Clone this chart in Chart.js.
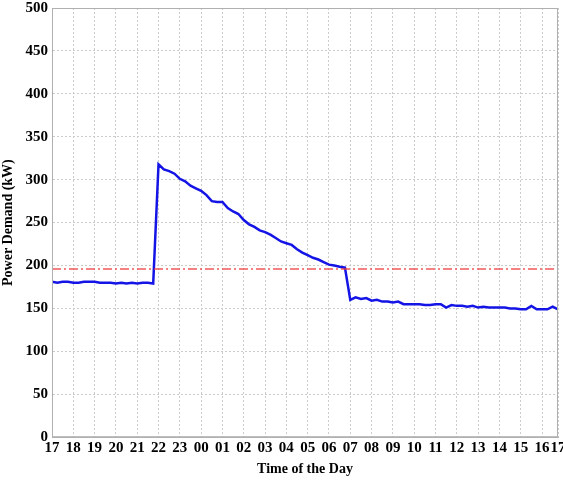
<!DOCTYPE html>
<html>
<head>
<meta charset="utf-8">
<script src="https://cdn.jsdelivr.net/npm/chart.js@4.4.1/dist/chart.umd.min.js"></script>
<style>
  html, body { margin: 0; padding: 0; background: #ffffff; }
  #wrap { width: 563px; height: 484px; position: relative; }
</style>
</head>
<body>
<div id="wrap"><canvas id="c" width="563" height="484"></canvas></div>
<script>
// Samples every 15 minutes starting at 17:00
const stepHours = 0.25;
const demandKW = [
  // 17:00 - 21:45
  181, 180, 181, 181, 180, 180, 181, 181, 181, 180,
  180, 180, 179, 180, 179, 180, 179, 180, 180, 179,
  // 22:00 - 06:45
  318, 312, 310, 307, 301, 298, 293, 290, 287, 282,
  275, 274, 274, 267, 263, 260, 253, 248, 245, 241,
  239, 236, 232, 228, 226, 224, 219, 215, 212, 209,
  207, 204, 201, 200, 198.5, 197.5,
  // 07:00 - 16:45
  160, 163, 161, 162, 159, 160, 158, 158, 157, 158,
  155, 155, 155, 155, 154, 154, 155, 155, 151, 154,
  153, 153, 152, 153, 151, 152, 151, 151, 151, 151,
  150, 150, 149, 149, 153, 149, 149, 149, 152, 149
];
const thresholdKW = [196, 196];
const xTickValues = [0,1,2,3,4,5,6,7,8,9,10,11,12,13,14,15,16,17,18,19,20,21,22,23,23.75];
const xTickLabels = ['17','18','19','20','21','22','23','00','01','02','03','04','05','06','07','08','09','10','11','12','13','14','15','16','17'];
const yTicks = { min: 0, max: 500, step: 50 };

const lastX = (demandKW.length - 1) * stepHours;
const demandPoints = demandKW.map((v, i) => ({ x: i * stepHours, y: v }));
const thresholdPoints = [{ x: 0, y: thresholdKW[0] }, { x: lastX, y: thresholdKW[1] }];

const fontTick = { family: "'Liberation Serif', 'Times New Roman', serif", size: 15, weight: 'bold' };
const fontTitle = { family: "'Liberation Serif', 'Times New Roman', serif", size: 14, weight: 'bold' };

const frame = {
  id: 'frame',
  afterDraw(chart) {
    const a = chart.chartArea, ctx = chart.ctx;
    ctx.save();
    ctx.strokeStyle = '#b0b0b0';
    ctx.lineWidth = 1;
    ctx.strokeRect(a.left + 0.5, a.top + 0.5, a.right - a.left - 1, a.bottom - a.top - 1);
    ctx.restore();
  }
};

new Chart(document.getElementById('c'), {
  type: 'line',
  data: {
    datasets: [
      {
        data: thresholdPoints,
        borderColor: 'rgba(240,60,60,0.85)',
        borderWidth: 1.5,
        borderDash: [9, 3, 2, 3],
        pointRadius: 0,
        fill: false
      },
      {
        data: demandPoints,
        borderColor: '#1414e6',
        borderWidth: 2.5,
        pointRadius: 0,
        tension: 0,
        fill: false
      }
    ]
  },
  options: {
    responsive: false,
    animation: false,
    layout: { padding: { top: 8, right: 5, left: 0, bottom: 0 } },
    plugins: { legend: { display: false }, tooltip: { enabled: false } },
    scales: {
      x: {
        type: 'linear',
        min: 0,
        max: lastX,
        afterBuildTicks(scale) { scale.ticks = xTickValues.map(v => ({ value: v })); },
        afterFit(scale) { scale.paddingRight = 5; scale.paddingLeft = 0; },
        ticks: {
          autoSkip: false,
          maxRotation: 0,
          color: '#000',
          font: fontTick,
          padding: 2,
          callback(value, index) { return xTickLabels[index]; }
        },
        grid: { color: '#cccccc', drawTicks: false },
        border: { display: true, color: '#b0b0b0', dash: [2, 2] },
        title: { display: true, text: 'Time of the Day', color: '#000', font: fontTitle, padding: { top: 2, bottom: 6 } }
      },
      y: {
        min: yTicks.min,
        max: yTicks.max,
        afterBuildTicks(scale) {
          const t = [];
          for (let v = yTicks.min; v <= yTicks.max; v += yTicks.step) t.push({ value: v });
          scale.ticks = t;
        },
        afterFit(scale) { scale.width = 52; scale.paddingTop = 0; scale.paddingBottom = 0; },
        ticks: { color: '#000', font: fontTick, padding: 4 },
        grid: { color: '#cccccc', drawTicks: false },
        border: { display: true, color: '#b0b0b0', dash: [2, 2] },
        title: { display: true, text: 'Power Demand (kW)', color: '#000', font: fontTitle, padding: { top: 0, bottom: 2 } }
      }
    }
  },
  plugins: [frame]
});
</script>
</body>
</html>
